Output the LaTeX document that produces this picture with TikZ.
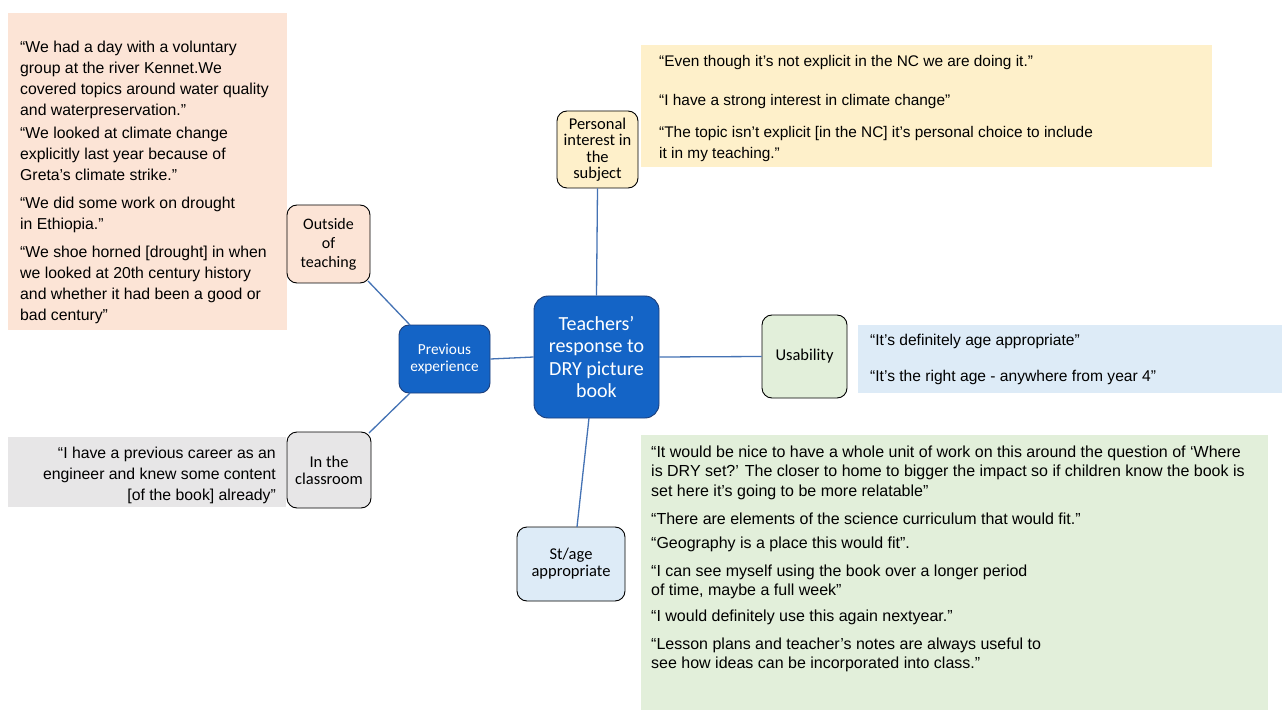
\documentclass[tikz,border=0pt]{standalone}
\usepackage{fontspec}
\setmainfont{Liberation Sans}
\newfontfamily\calib{Carlito}
\definecolor{cblue}{RGB}{20,100,198}
\definecolor{cbluedk}{RGB}{28,62,122}
\definecolor{cline}{RGB}{68,114,180}
\definecolor{cpink}{RGB}{252,228,214}
\definecolor{cyel}{RGB}{254,240,202}
\definecolor{cltblue}{RGB}{221,235,247}
\definecolor{cgray}{RGB}{231,230,231}
\definecolor{cgreen}{RGB}{226,239,218}
\tikzset{
  topic/.style={draw=black, line width=0.9pt, rounded corners=10pt, font=\calib\fontsize{16.5}{17}\selectfont, align=center, inner sep=0pt},
  bluetopic/.style={draw=cbluedk, line width=0.9pt, fill=cblue, rounded corners=10pt, text=white, align=center, inner sep=0pt},
  conn/.style={draw=cline, line width=1.3pt},
  qtext/.style={anchor=north west, inner sep=0pt, align=left, font=\fontsize{15.8}{21}\selectfont},
}
\begin{document}
\begin{tikzpicture}[x=1pt,y=-1pt]
\useasboundingbox (0,0) rectangle (1282,711);
\fill[white] (0,0) rectangle (1282,711);
% quote boxes
\fill[cpink] (8,13) rectangle (287,330);
\fill[cyel] (641,45) rectangle (1212,167);
\fill[cltblue] (858,325) rectangle (1282,393);
\fill[cgray] (8,437) rectangle (286,507);
\fill[cgreen] (641,435) rectangle (1268,710);
% topic nodes
\node[bluetopic, minimum width=125pt, minimum height=122pt, rounded corners=14pt, font=\calib\fontsize{20}{22.5}\selectfont] (c) at (596.5,357) {Teachers’\\response to\\DRY picture\\book};
\node[bluetopic, minimum width=91pt, minimum height=68pt, font=\calib\fontsize{15.3}{16.5}\selectfont] (prev) at (444.5,359) {Previous\\experience};
\node[topic, fill=cpink, minimum width=83pt, minimum height=78pt, font=\calib\fontsize{16}{19}\selectfont] (out) at (328.5,244) {Outside\\of\\teaching};
\node[topic, fill=cgray, minimum width=84pt, minimum height=76pt] (cls) at (329,470) {In the\\classroom};
\node[topic, fill=cyel, minimum width=81pt, minimum height=77pt, font=\calib\fontsize{16.5}{16.5}\selectfont] (pers) at (597.5,149.5) {Personal\\interest in\\the\\subject};
\node[topic, fill=cgreen, minimum width=85pt, minimum height=83pt] (use) at (804.5,356.5) {Usability};
\node[topic, fill=cltblue, minimum width=108pt, minimum height=74pt] (st) at (571,564) {St/age\\appropriate};
% connectors
\coordinate (cs) at (589,418);
\coordinate (stt) at (577,527);
\coordinate (o1) at (368,281);
\coordinate (p1) at (410,325);
\coordinate (p2) at (410,393);
\coordinate (k1) at (369,433);
\draw[conn] (c.north) -- (pers.south);
\draw[conn] (c.east) -- (use.west);
\draw[conn] (c.west) -- (prev.east);
\draw[conn] (cs) -- (stt);
\draw[conn] (o1) -- (p1);
\draw[conn] (p2) -- (k1);
% pink quotes
\node[qtext] (q1) at (20,41) {“We had a day with a voluntary\\group at the river Kennet.We\\covered topics around water quality\\and waterpreservation.”};
\node[qtext] (q2) at (20,127) {“We looked at climate change\\explicitly last year because of\\Greta’s climate strike.”};
\node[qtext] (q3) at (20,197) {“We did some work on drought\\in Ethiopia.”};
\node[qtext] (q4) at (20,246) {“We shoe horned [drought] in when\\we looked at 20th century history\\and whether it had been a good or\\bad century”};
% yellow quotes
\node[qtext, font=\fontsize{15.4}{21}\selectfont] (y1) at (659,55) {“Even though it’s not explicit in the NC we are doing it.”};
\node[qtext, font=\fontsize{15.4}{21}\selectfont] (y2) at (659,94) {“I have a strong interest in climate change”};
\node[qtext, font=\fontsize{15.4}{21}\selectfont] (y3) at (659,126) {“The topic isn't explicit [in the NC] it's personal choice to include\\it in my teaching.”};
% blue quotes
\node[qtext, font=\fontsize{15.6}{21}\selectfont] (b1) at (870,334) {“It's definitely age appropriate”};
\node[qtext, font=\fontsize{15.6}{21}\selectfont] (b2) at (870,370) {“It's the right age - anywhere from year 4”};
% gray quote
\node[qtext, anchor=north east, align=right] (g1) at (276,447) {“I have a previous career as an\\engineer and knew some content\\{}[of the book] already”};
% green quotes
\begin{scope}[every node/.style={qtext, font=\fontsize{16}{19.2}\selectfont}]
\node (e1) at (651,446) {“It would be nice to have a whole unit of work on this around the question of ‘Where\\is DRY set?’ The closer to home to bigger the impact so if children know the book is\\set here it’s going to be more relatable”};
\node (e2) at (651,513) {“There are elements of the science curriculum that would fit.”};
\node (e3) at (651,537) {“Geography is a place this would fit”.};
\node (e4) at (651,565) {“I can see myself using the book over a longer period\\of time, maybe a full week”};
\node (e5) at (651,610) {“I would definitely use this again nextyear.”};
\node (e6) at (651,638) {“Lesson plans and teacher’s notes are always useful to\\see how ideas can be incorporated into class.”};
\end{scope}
\end{tikzpicture}
\end{document}
